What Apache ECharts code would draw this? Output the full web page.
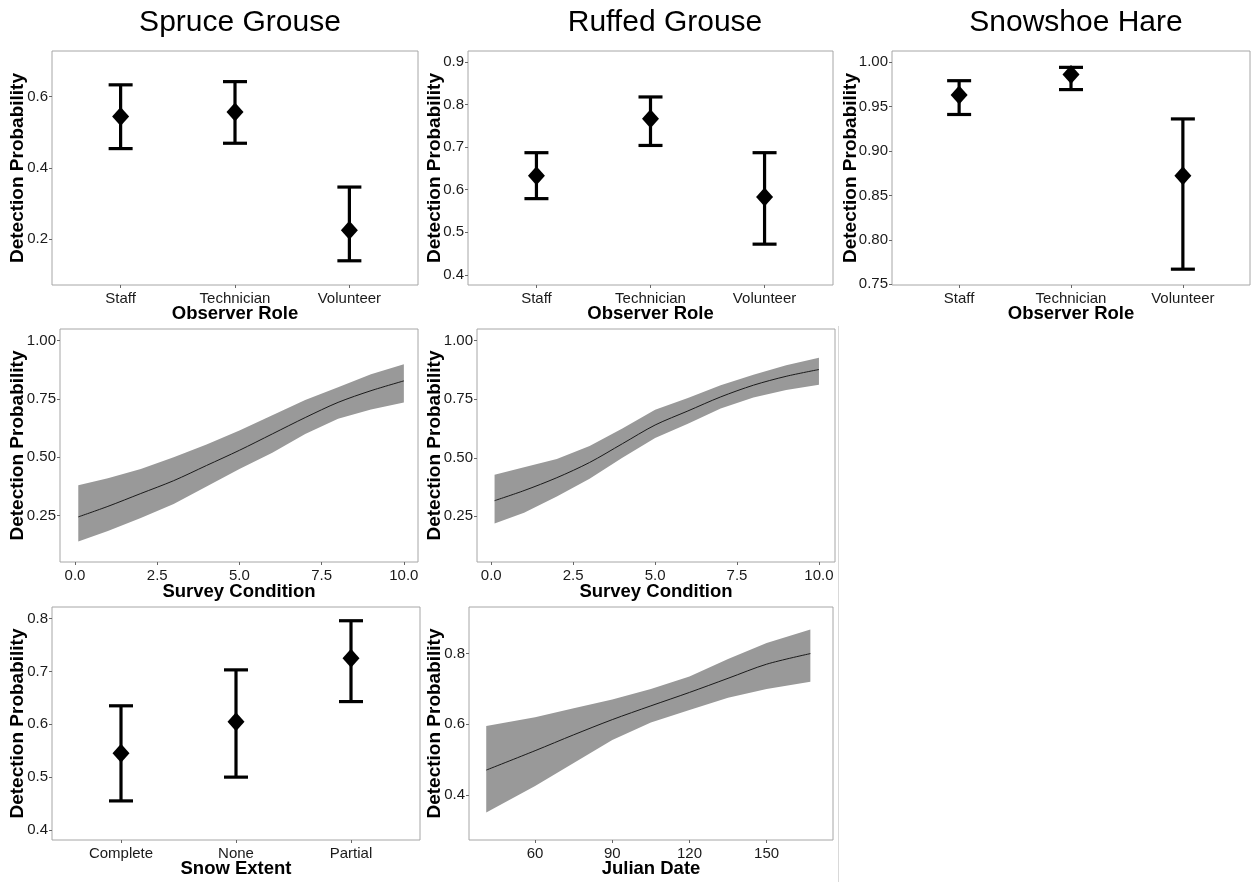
<!DOCTYPE html>
<html>
<head>
<meta charset="utf-8">
<script src="https://cdn.jsdelivr.net/npm/echarts@6/dist/echarts.min.js"></script>
<style>
html,body{margin:0;padding:0;background:#fff;}
#chart{width:1252px;height:882px;}
</style>
</head>
<body>
<div id="chart"></div>
<script>
// ---------------- DATA ----------------
const speciesTitles = ['Spruce Grouse', 'Ruffed Grouse', 'Snowshoe Hare'];

const roleCategories = ['Staff', 'Technician', 'Volunteer'];
const spruceRoleMean = [0.544, 0.557, 0.225];
const spruceRoleLow  = [0.454, 0.469, 0.139];
const spruceRoleHigh = [0.633, 0.642, 0.346];

const ruffedRoleMean = [0.633, 0.767, 0.583];
const ruffedRoleLow  = [0.579, 0.704, 0.472];
const ruffedRoleHigh = [0.687, 0.818, 0.687];

const hareRoleMean = [0.963, 0.986, 0.872];
const hareRoleLow  = [0.941, 0.969, 0.767];
const hareRoleHigh = [0.979, 0.994, 0.936];

const conditionX = [0.1, 1, 2, 3, 4, 5, 6, 7, 8, 9, 10];
const spruceCondMean  = [0.245, 0.29, 0.345, 0.40, 0.465, 0.53, 0.60, 0.67, 0.735, 0.785, 0.827];
const spruceCondUpper = [0.38, 0.41, 0.45, 0.50, 0.555, 0.615, 0.68, 0.745, 0.80, 0.855, 0.898];
const spruceCondLower = [0.14, 0.185, 0.24, 0.30, 0.375, 0.45, 0.52, 0.60, 0.665, 0.705, 0.734];

const ruffedCondMean  = [0.317, 0.36, 0.415, 0.48, 0.56, 0.64, 0.70, 0.76, 0.81, 0.848, 0.877];
const ruffedCondUpper = [0.428, 0.46, 0.495, 0.55, 0.625, 0.705, 0.755, 0.81, 0.855, 0.895, 0.927];
const ruffedCondLower = [0.219, 0.265, 0.335, 0.41, 0.50, 0.585, 0.645, 0.71, 0.757, 0.79, 0.812];

const snowCategories = ['Complete', 'None', 'Partial'];
const snowMean = [0.545, 0.605, 0.725];
const snowLow  = [0.455, 0.500, 0.643];
const snowHigh = [0.635, 0.703, 0.796];

const julianX = [41, 60, 75, 90, 105, 120, 135, 150, 167];
const julianMean  = [0.47, 0.525, 0.57, 0.613, 0.652, 0.69, 0.73, 0.77, 0.80];
const julianUpper = [0.595, 0.62, 0.645, 0.67, 0.70, 0.735, 0.785, 0.83, 0.868];
const julianLower = [0.35, 0.425, 0.49, 0.555, 0.605, 0.64, 0.675, 0.70, 0.72];

// tick labels
const roleXTicks = [1, 2, 3];
const spruceRoleYTicks = [0.2, 0.4, 0.6];
const ruffedRoleYTicks = [0.4, 0.5, 0.6, 0.7, 0.8, 0.9];
const hareRoleYTicks = [0.75, 0.80, 0.85, 0.90, 0.95, 1.00];
const conditionXTicks = [0, 2.5, 5, 7.5, 10];
const conditionYTicks = [0.25, 0.5, 0.75, 1.0];
const snowYTicks = [0.4, 0.5, 0.6, 0.7, 0.8];
const julianXTicks = [60, 90, 120, 150];
const julianYTicks = [0.4, 0.6, 0.8];

const yTitle = 'Detection Probability';

// ---------------- BUILD ----------------
const FONT = '"Liberation Sans", Arial, sans-serif';
const grids = [], xAxes = [], yAxes = [], series = [];

function addPanel(p) {
  const idx = grids.length;
  grids.push({
    left: p.left, top: p.top, width: p.width, height: p.height,
    show: true, borderColor: '#a6a6a6', borderWidth: 1, backgroundColor: '#fff',
    containLabel: false
  });
  const tickStyle = { show: true, length: 3, lineStyle: { color: '#666', width: 1 } };
  xAxes.push({
    gridIndex: idx, type: 'value', min: p.xMin, max: p.xMax,
    axisLine: { show: false, onZero: false },
    axisTick: Object.assign({ customValues: p.xTicks }, tickStyle),
    axisLabel: {
      customValues: p.xTicks, margin: 6, color: '#1a1a1a', fontSize: 15, fontFamily: FONT,
      formatter: p.xFormat
    },
    splitLine: { show: false },
    name: p.xName, nameLocation: 'middle', nameGap: p.xNameGap, nameMoveOverlap: false,
    nameTextStyle: { fontSize: 18.5, fontWeight: 'bold', color: '#000', fontFamily: FONT }
  });
  yAxes.push({
    gridIndex: idx, type: 'value', min: p.yMin, max: p.yMax,
    axisLine: { show: false, onZero: false },
    axisTick: Object.assign({ customValues: p.yTicks }, tickStyle),
    axisLabel: {
      customValues: p.yTicks, margin: 4, color: '#1a1a1a', fontSize: 15, fontFamily: FONT,
      formatter: v => Number(v).toFixed(p.yDec)
    },
    splitLine: { show: false },
    name: yTitle, nameLocation: 'middle', nameGap: p.yNameGap, nameRotate: 90, nameMoveOverlap: false,
    nameTextStyle: { fontSize: 19, fontWeight: 'bold', color: '#000', fontFamily: FONT }
  });
  return idx;
}

function errorBarPanel(p, cats, mean, low, high) {
  const idx = addPanel(Object.assign({
    xMin: 0.4, xMax: 3.6, xTicks: roleXTicks,
    xFormat: v => cats[Math.round(v) - 1] || ''
  }, p));
  series.push({
    type: 'custom', xAxisIndex: idx, yAxisIndex: idx,
    data: cats.map((c, i) => [i + 1, low[i], high[i]]),
    renderItem: function (params, api) {
      const x = api.value(0);
      const pLo = api.coord([x, api.value(1)]);
      const pHi = api.coord([x, api.value(2)]);
      const hw = 12;
      const st = { stroke: '#000', lineWidth: 3.2 };
      return {
        type: 'group', children: [
          { type: 'line', shape: { x1: pLo[0], y1: pLo[1], x2: pHi[0], y2: pHi[1] }, style: st },
          { type: 'line', shape: { x1: pLo[0] - hw, y1: pLo[1], x2: pLo[0] + hw, y2: pLo[1] }, style: st },
          { type: 'line', shape: { x1: pHi[0] - hw, y1: pHi[1], x2: pHi[0] + hw, y2: pHi[1] }, style: st }
        ]
      };
    },
    z: 2
  });
  series.push({
    type: 'scatter', xAxisIndex: idx, yAxisIndex: idx,
    symbol: 'diamond', symbolSize: [17, 19],
    itemStyle: { color: '#000', opacity: 1 },
    data: cats.map((c, i) => [i + 1, mean[i]]),
    z: 3
  });
}

function bandPanel(p, xs, mean, lower, upper) {
  const idx = addPanel(p);
  // confidence band polygon, drawn from data via the axes' scales
  series.push({
    type: 'custom', xAxisIndex: idx, yAxisIndex: idx,
    data: xs.map((x, i) => [x, lower[i], upper[i]]),
    renderItem: function (params, api) {
      if (params.dataIndex !== 0) return null;
      const top = xs.map((x, i) => api.coord([x, upper[i]]));
      const bot = xs.map((x, i) => api.coord([x, lower[i]])).reverse();
      return {
        type: 'polygon', shape: { points: top.concat(bot) },
        style: { fill: '#999999', stroke: null }
      };
    },
    silent: true, z: 1
  });
  series.push({
    type: 'line', xAxisIndex: idx, yAxisIndex: idx,
    data: xs.map((x, i) => [x, mean[i]]),
    showSymbol: false, smooth: 0.3, lineStyle: { color: '#1a1a1a', width: 1 }, z: 2
  });
}

// Row 1
errorBarPanel({ left: 52, top: 51, width: 366, height: 234, yMin: 0.071, yMax: 0.728,
  yTicks: spruceRoleYTicks, yDec: 1, xName: 'Observer Role', xNameGap: 19, yNameGap: 25 },
  roleCategories, spruceRoleMean, spruceRoleLow, spruceRoleHigh);
errorBarPanel({ left: 468, top: 51, width: 365, height: 234, yMin: 0.376, yMax: 0.926,
  yTicks: ruffedRoleYTicks, yDec: 1, xName: 'Observer Role', xNameGap: 19, yNameGap: 24 },
  roleCategories, ruffedRoleMean, ruffedRoleLow, ruffedRoleHigh);
errorBarPanel({ left: 892, top: 51, width: 358, height: 234, yMin: 0.7492, yMax: 1.0124,
  yTicks: hareRoleYTicks, yDec: 2, xName: 'Observer Role', xNameGap: 19, yNameGap: 32 },
  roleCategories, hareRoleMean, hareRoleLow, hareRoleHigh);

// Row 2
bandPanel({ left: 60, top: 329, width: 358, height: 233, xMin: -0.456, xMax: 10.43,
  xTicks: conditionXTicks, xFormat: v => Number(v).toFixed(1),
  yMin: 0.052, yMax: 1.049, yTicks: conditionYTicks, yDec: 2,
  xName: 'Survey Condition', xNameGap: 20.5, yNameGap: 33 },
  conditionX, spruceCondMean, spruceCondLower, spruceCondUpper);
bandPanel({ left: 477, top: 329, width: 358, height: 233, xMin: -0.436, xMax: 10.49,
  xTicks: conditionXTicks, xFormat: v => Number(v).toFixed(1),
  yMin: 0.055, yMax: 1.05, yTicks: conditionYTicks, yDec: 2,
  xName: 'Survey Condition', xNameGap: 20.5, yNameGap: 33 },
  conditionX, ruffedCondMean, ruffedCondLower, ruffedCondUpper);

// Row 3
errorBarPanel({ left: 52, top: 607, width: 368, height: 233, yMin: 0.381, yMax: 0.822,
  yTicks: snowYTicks, yDec: 1, xName: 'Snow Extent', xNameGap: 19, yNameGap: 25 },
  snowCategories, snowMean, snowLow, snowHigh);
bandPanel({ left: 469, top: 607, width: 364, height: 233, xMin: 34.3, xMax: 175.8,
  xTicks: julianXTicks, xFormat: v => String(Math.round(v)),
  yMin: 0.272, yMax: 0.932, yTicks: julianYTicks, yDec: 1,
  xName: 'Julian Date', xNameGap: 19, yNameGap: 25 },
  julianX, julianMean, julianLower, julianUpper);

const titleCenters = [235, 660, 1071];
const option = {
  animation: false,
  backgroundColor: '#fff',
  title: speciesTitles.map((t, i) => ({
    text: t, left: titleCenters[i], top: 3, textAlign: 'center',
    textStyle: { fontSize: 30, fontWeight: 'normal', color: '#000', fontFamily: FONT }
  })),
  grid: grids, xAxis: xAxes, yAxis: yAxes, series: series,
  graphic: [
    { type: 'line', shape: { x1: 838.5, y1: 326, x2: 838.5, y2: 882 },
      style: { stroke: '#d9d9d9', lineWidth: 1 }, silent: true }
  ]
};

const chart = echarts.init(document.getElementById('chart'), null, { renderer: 'canvas' });
chart.setOption(option);
</script>
</body>
</html>
